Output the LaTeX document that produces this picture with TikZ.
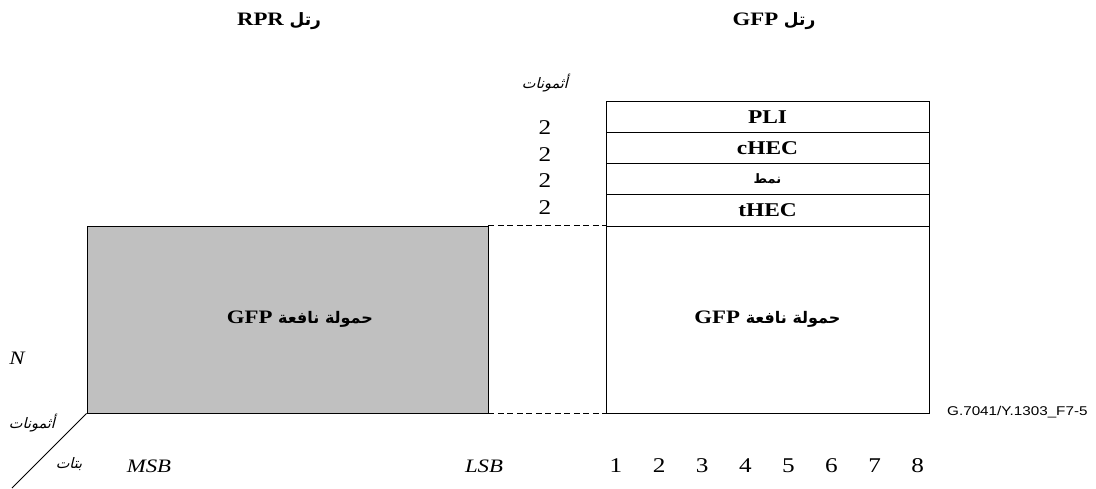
\documentclass[tikz,border=0pt]{standalone}
\usepackage{fontspec}
\setmainfont{Liberation Serif}[FakeStretch=1.2]
\newfontfamily\arabicfont[Script=Arabic]{DejaVu Sans}
\newfontfamily\arabicslant[Script=Arabic,FakeSlant=0.25]{DejaVu Sans}
\newfontfamily\figsans{Liberation Sans}[FakeStretch=1.2]
\TeXXeTstate=1
\definecolor{payloadgray}{HTML}{C0C0C0}
\tikzset{
  lbl/.style={inner sep=0pt, font=\fontsize{19}{22}\selectfont},
  numlbl/.style={inner sep=0pt, font=\fontsize{21}{24}\selectfont},
  hdrrow/.style={draw, line width=0.9pt, minimum width=323pt, minimum height=31.25pt,
    inner sep=0pt, font=\fontsize{19.5}{22}\selectfont\bfseries},
  paybox/.style={draw, line width=0.9pt, inner sep=0pt, font=\fontsize{19}{22}\selectfont\bfseries},
  link/.style={line width=0.8pt, dash pattern=on 6pt off 3.5pt},
}
\newcommand{\artitle}[1]{{\arabicfont\bfseries\fontsize{17}{20}\selectfont\beginR #1\endR}}
\newcommand{\arpay}[1]{{\arabicfont\bfseries\fontsize{16}{20}\selectfont\beginR #1\endR}}
\newcommand{\arslant}[1]{{\arabicslant\fontsize{14.5}{16}\selectfont\beginR #1\endR}}
\begin{document}
\begin{tikzpicture}[x=1pt,y=-1pt]
\useasboundingbox (0,0) rectangle (1096,488);

% frame titles
\node[lbl, font=\fontsize{19}{22}\selectfont\bfseries] (trpr) at (279,21) {RPR \artitle{رتل}};
\node[lbl, font=\fontsize{19}{22}\selectfont\bfseries] (tgfp) at (774,21) {GFP \artitle{رتل}};

% RPR frame payload
\node[paybox, fill=payloadgray, minimum width=401pt, minimum height=187pt] (rprpay) at (287.5,319.5) {};
\node[lbl, font=\fontsize{19}{22}\selectfont\bfseries] (rprtxt) at (300,319) {GFP \arpay{حمولة نافعة}};

% GFP frame: core header rows and payload
\node[hdrrow] (pli)  at (767.5,116.625) {PLI};
\node[hdrrow] (chec) at (767.5,147.875) {cHEC};
\node[hdrrow] (typ)  at (767.5,179.125) {{\arabicfont\fontsize{13}{16}\selectfont\beginR نمط\endR}};
\node[hdrrow] (thec) at (767.5,210.375) {tHEC};
\node[paybox, minimum width=323pt, minimum height=187pt] (gfppay) at (767.5,319.5)
  {GFP \arpay{حمولة نافعة}};

% dashed correspondence lines
\draw[link] (rprpay.north east) -- (gfppay.north west);
\draw[link] (rprpay.south east) -- (gfppay.south west);

% octet counts
\node[lbl] (octtop) at (545,83) {\arslant{أثمونات}};
\node[numlbl] (n1) at (545,128) {2};
\node[numlbl] (n2) at (545,155) {2};
\node[numlbl] (n3) at (545,181) {2};
\node[numlbl] (n4) at (545,208) {2};

% axes
\coordinate (axend) at (12,488);
\draw[line width=0.8pt] (rprpay.south west) -- (axend);
\node[lbl] (nlen) at (17,358) {\itshape N};
\node[lbl] (octleft) at (32,423) {\arslant{أثمونات}};
\node[lbl] (bits) at (69,464) {\arslant{بتات}};
\node[lbl] (msb) at (149,466) {\itshape MSB};
\node[lbl] (lsb) at (484,466) {\itshape LSB};
\foreach \i in {1,...,8}
  \node[numlbl] (bit\i) at ({616+43.1*(\i-1)},466) {\i};

% figure reference
\node[lbl, anchor=west, font=\figsans\fontsize{12.7}{15}\selectfont] (figref) at (947,412) {G.7041/Y.1303\_F7-5};
\end{tikzpicture}
\end{document}
